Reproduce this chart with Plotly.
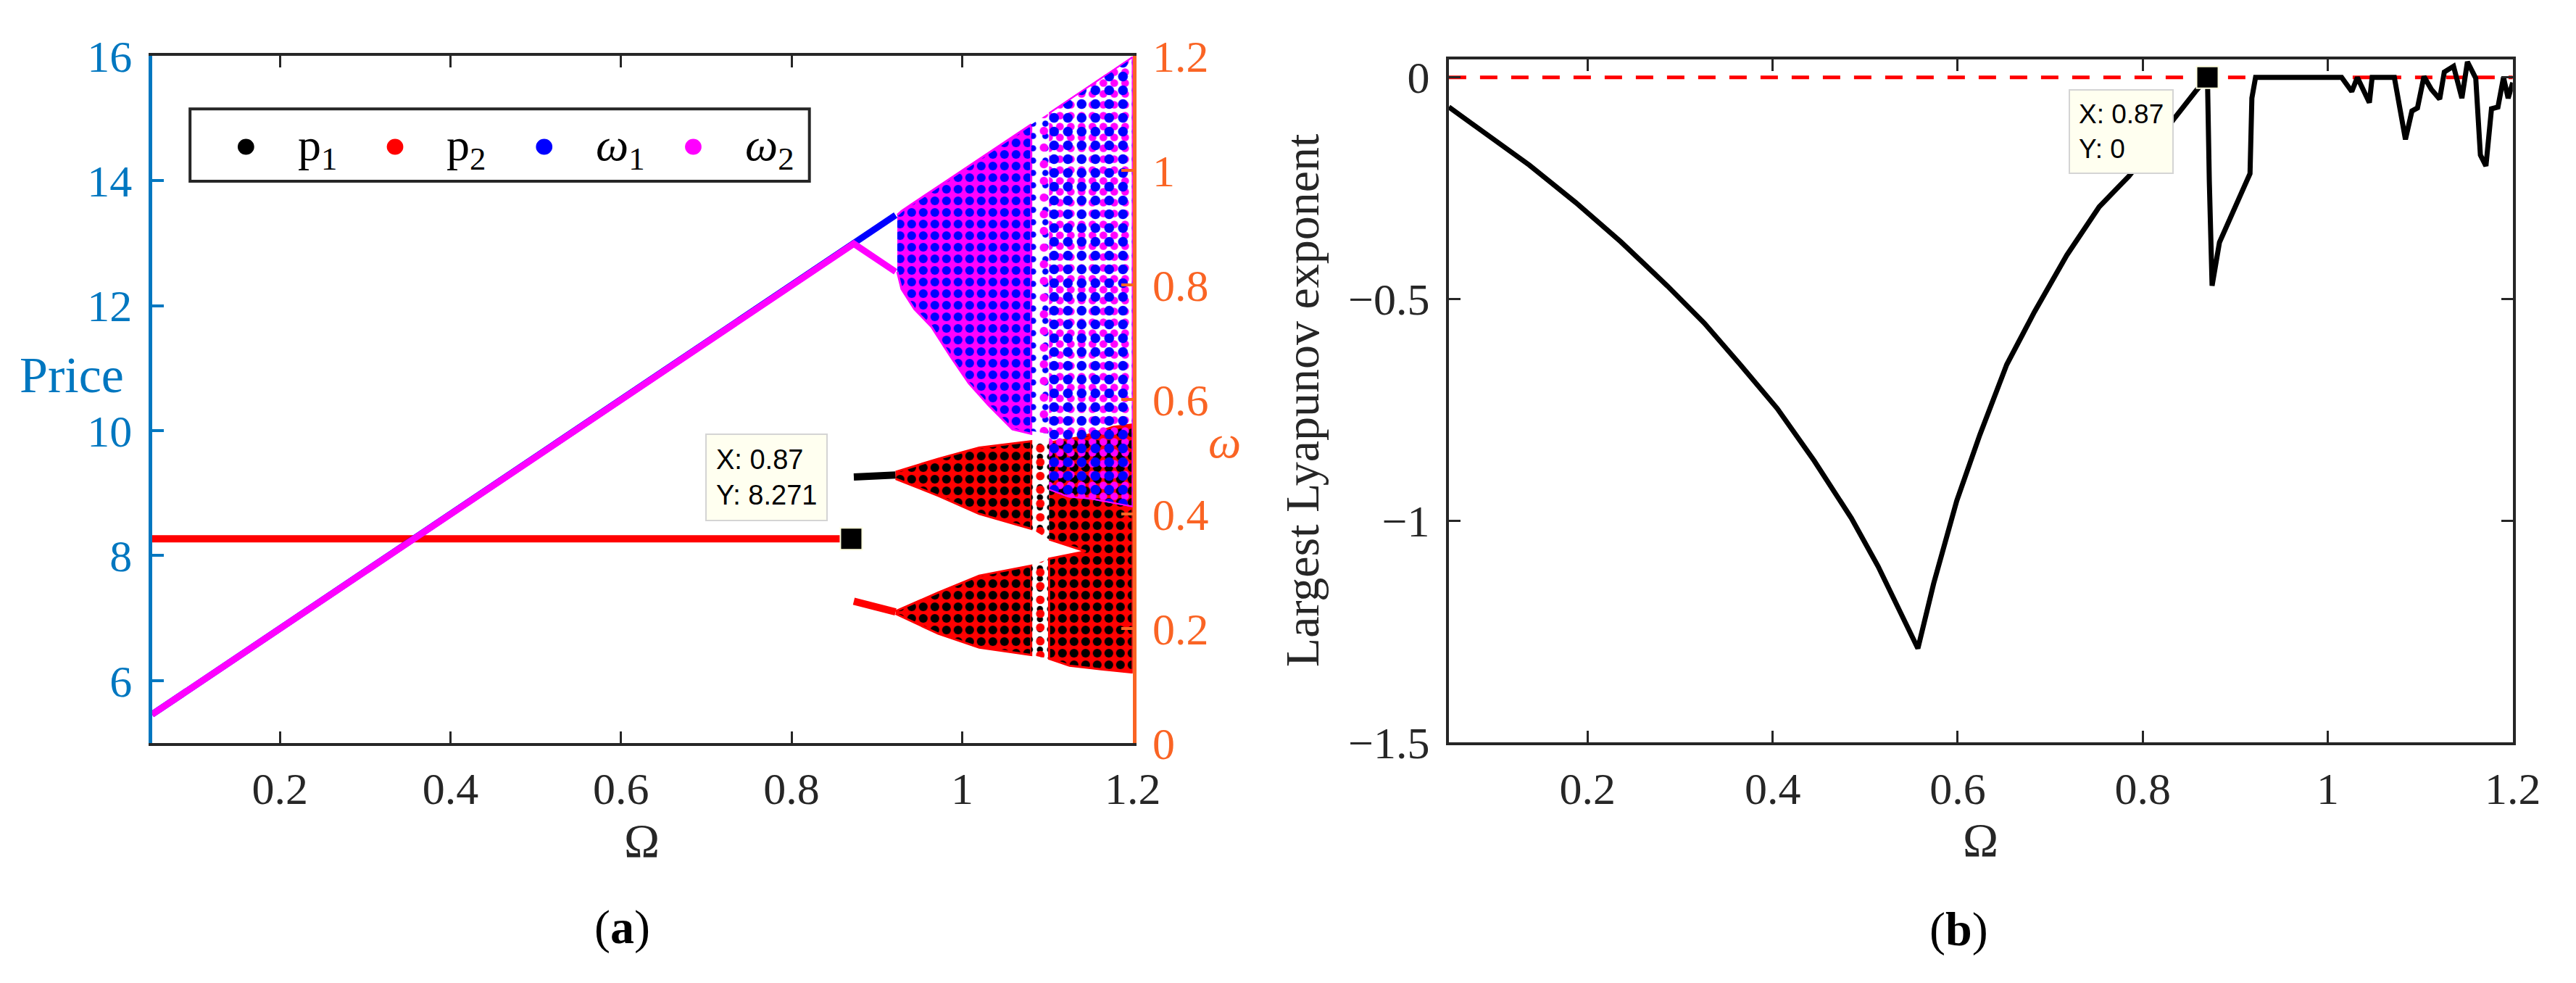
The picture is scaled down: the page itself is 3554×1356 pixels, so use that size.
import plotly.graph_objects as go

# ---------------- panel (a): bifurcation diagram ----------------
# stable state (before the flip at Omega = 0.87)
stable_omega = [0.05, 0.87]
stable_price = [8.271, 8.271]
stable_w_omega = [0.05, 0.873]
stable_w = [0.05, 0.872]

# period-2 branches
branch_omega = [0.873, 0.922]
p1_branch = [9.26, 9.29]
p2_branch = [7.27, 7.10]
w1_branch = [0.872, 0.922]
w2_branch = [0.872, 0.823]

# chaotic price bands (envelopes)
band_omega = [0.922, 0.972, 1.02, 1.081]
upper_band_top = [9.34, 9.55, 9.73, 9.83]
upper_band_bot = [9.23, 8.96, 8.67, 8.43]
lower_band_top = [7.11, 7.41, 7.68, 7.84]
lower_band_bot = [7.07, 6.75, 6.53, 6.41]

# periodic window 1.081 - 1.102 (sparse points)
window_omega = [1.081, 1.102]
window_up_top = [9.83, 9.81]
window_up_bot = [8.43, 8.26]
window_low_top = [7.84, 7.95]
window_low_bot = [6.41, 6.35]

# merged price band after the window (outline incl. the notch where bands meet)
merged_omega = [1.102, 1.14, 1.177, 1.2, 1.2, 1.163, 1.126, 1.102, 1.102, 1.145, 1.102]
merged_price = [9.81, 9.90, 10.06, 10.10, 6.13, 6.18, 6.24, 6.35, 7.95, 8.07, 8.26]

# chaotic omega region
w_chaos_omega = [0.924, 0.929, 0.944, 0.964, 0.986, 1.008, 1.031, 1.059, 1.081]
w_chaos_top = [0.922, 0.929, 0.944, 0.964, 0.986, 1.008, 1.031, 1.059, 1.080]
w_chaos_bot = [0.823, 0.793, 0.758, 0.727, 0.676, 0.628, 0.590, 0.548, 0.540]
w_window_omega = [1.081, 1.102]
w_window_top = [1.080, 1.100]
w_window_bot = [0.545, 0.540]
w_late_omega = [1.102, 1.125, 1.15, 1.175, 1.2]
w_late_top = [1.100, 1.123, 1.148, 1.173, 1.198]
w_late_bot = [0.443, 0.430, 0.427, 0.420, 0.413]

# legend of panel (a)
legend_labels = ['p<sub>1</sub>', 'p<sub>2</sub>', '<i>ω</i><sub>1</sub>', '<i>ω</i><sub>2</sub>']
legend_colors = ['black', 'red', 'blue', 'magenta']

# ---------------- panel (b): largest Lyapunov exponent ----------------
lyap_omega = [0.05, 0.087, 0.137, 0.187, 0.236, 0.286, 0.326, 0.365, 0.405, 0.445,
              0.485, 0.514, 0.534, 0.557, 0.574, 0.599, 0.624, 0.653, 0.683, 0.718,
              0.753, 0.785, 0.857, 0.87,
              0.872, 0.875, 0.883, 0.902, 0.916, 0.918, 0.922, 0.95, 0.98, 1.0, 1.015,
              1.026, 1.032, 1.045, 1.048, 1.072, 1.084, 1.091, 1.097, 1.104, 1.112,
              1.121, 1.126, 1.136, 1.145, 1.151, 1.16, 1.165, 1.171, 1.177, 1.184,
              1.19, 1.195, 1.2]
lyap = [-0.067, -0.124, -0.198, -0.282, -0.371, -0.470, -0.554, -0.648, -0.747, -0.865,
        -0.994, -1.103, -1.192, -1.288, -1.142, -0.955, -0.806, -0.648, -0.529, -0.401,
        -0.292, -0.223, -0.032, 0.0,
        -0.234, -0.47, -0.372, -0.284, -0.217, -0.047, 0.0, 0.0, 0.0, 0.0, 0.0,
        -0.032, 0.0, -0.057, 0.0, 0.0, -0.14, -0.076, -0.069, 0.002, -0.027,
        -0.049, 0.012, 0.025, -0.047, 0.035, -0.002, -0.175, -0.2, -0.071, -0.067,
        0.0, -0.047, -0.012]

x_ticks = [0.2, 0.4, 0.6, 0.8, 1, 1.2]
price_ticks = [6, 8, 10, 12, 14, 16]
w_ticks = [0, 0.2, 0.4, 0.6, 0.8, 1, 1.2]
lyap_ticks = [-1.5, -1, -0.5, 0]

W, H = 3554, 1356
BLUE_AX = '#0077C0'
ORANGE_AX = '#FA6424'
DARK = '#262626'
SERIF = 'Liberation Serif'
CLEAR = 'rgba(0,0,0,0)'

fig = go.Figure()


def band(xs, top, bot):
    # closed outline: along the top, back along the bottom
    return list(xs) + list(xs)[::-1], list(top) + list(bot)[::-1]


def dense(fg, bg):
    return dict(shape='.', fgcolor=fg, bgcolor=bg, size=16, solidity=0.45, fillmode='replace')


def sparse(fg, size=20, solidity=0.15):
    return dict(shape='.', fgcolor=fg, bgcolor=CLEAR, size=size, solidity=solidity, fillmode='replace')


# price traces (left axis)
fig.add_trace(go.Scatter(x=stable_omega, y=stable_price, mode='lines',
                         line=dict(color='red', width=10), showlegend=False))
fig.add_trace(go.Scatter(x=branch_omega, y=p1_branch, mode='lines',
                         line=dict(color='black', width=10), showlegend=False))
fig.add_trace(go.Scatter(x=branch_omega, y=p2_branch, mode='lines',
                         line=dict(color='red', width=10), showlegend=False))
for top, bot in [(upper_band_top, upper_band_bot), (lower_band_top, lower_band_bot)]:
    bx, by = band(band_omega, top, bot)
    fig.add_trace(go.Scatter(x=bx, y=by, mode='lines', fill='toself', line=dict(color='red', width=3),
                             fillcolor=CLEAR, fillpattern=dense('black', 'red'), showlegend=False))
for top, bot in [(window_up_top, window_up_bot), (window_low_top, window_low_bot)]:
    bx, by = band(window_omega, top, bot)
    for col, sz in [('black', 14), ('red', 19)]:
        fig.add_trace(go.Scatter(x=bx, y=by, mode='lines', fill='toself', line=dict(width=0),
                                 fillcolor=CLEAR, fillpattern=sparse(col, sz, 0.3), showlegend=False))
fig.add_trace(go.Scatter(x=merged_omega, y=merged_price, mode='lines', fill='toself',
                         line=dict(color='red', width=3), fillcolor=CLEAR,
                         fillpattern=dense('black', 'red'), showlegend=False))

# omega traces (right axis)
fig.add_trace(go.Scatter(x=stable_w_omega + branch_omega[1:], y=stable_w + w1_branch[1:], yaxis='y2',
                         mode='lines', line=dict(color='blue', width=9), showlegend=False))
fig.add_trace(go.Scatter(x=stable_w_omega + branch_omega[1:], y=stable_w + w2_branch[1:], yaxis='y2',
                         mode='lines', line=dict(color='magenta', width=9), showlegend=False))
bx, by = band(w_chaos_omega, w_chaos_top, w_chaos_bot)
fig.add_trace(go.Scatter(x=bx, y=by, yaxis='y2', mode='lines', fill='toself',
                         line=dict(color='magenta', width=3), fillcolor=CLEAR,
                         fillpattern=dense('blue', 'magenta'), showlegend=False))
bx, by = band(w_window_omega, w_window_top, w_window_bot)
for col, sz in [('blue', 17), ('magenta', 23)]:
    fig.add_trace(go.Scatter(x=bx, y=by, yaxis='y2', mode='lines', fill='toself', line=dict(width=0),
                             fillcolor=CLEAR, fillpattern=sparse(col, sz, 0.2), showlegend=False))
bx, by = band(w_late_omega, w_late_top, w_late_bot)
for col, sz in [('magenta', 15), ('blue', 19)]:
    fig.add_trace(go.Scatter(x=bx, y=by, yaxis='y2', mode='lines', fill='toself',
                             line=dict(color='magenta', width=2), fillcolor=CLEAR,
                             fillpattern=sparse(col, sz, 0.4), showlegend=False))

# data tip marker (a)
fig.add_trace(go.Scatter(x=[0.87], y=[8.271], mode='markers', showlegend=False,
                         marker=dict(symbol='square', size=30, color='black',
                                     line=dict(color='#FFFFE0', width=2))))

# panel (b)
fig.add_trace(go.Scatter(x=[0.05, 1.2], y=[0, 0], xaxis='x2', yaxis='y3', mode='lines',
                         line=dict(color='red', width=5, dash='24px,19px'), showlegend=False))
fig.add_trace(go.Scatter(x=lyap_omega, y=lyap, xaxis='x2', yaxis='y3', mode='lines',
                         line=dict(color='black', width=7), showlegend=False))
fig.add_trace(go.Scatter(x=[0.87], y=[0], xaxis='x2', yaxis='y3', mode='markers', showlegend=False,
                         marker=dict(symbol='square', size=30, color='black',
                                     line=dict(color='#FFFFE0', width=2))))

# hand-made legend box (pixel layout -> paper coords)
shapes = [dict(type='rect', xref='paper', yref='paper', x0=257 / W, x1=1121 / W,
               y0=1 - 220 / H, y1=1 - 115 / H, line=dict(color=DARK, width=4),
               fillcolor='white', layer='below')]
annotations = []
for i, (lab, col) in enumerate(zip(legend_labels, legend_colors)):
    cx, cy, r = 335 + 208 * i, 170, 11.5
    shapes.append(dict(type='circle', xref='paper', yref='paper', x0=(cx - r) / W, x1=(cx + r) / W,
                       y0=1 - (cy + r) / H, y1=1 - (cy - r) / H, fillcolor=col, line=dict(width=0)))
    annotations.append(dict(text=lab, x=(cx + 70) / W, y=1 - 172 / H, xref='paper', yref='paper',
                            xanchor='left', yanchor='middle', showarrow=False,
                            font=dict(family=SERIF, size=64, color='black')))


def label(text, x, y, size=66, color=DARK, angle=0):
    return dict(text=text, x=x, y=y, xref='paper', yref='paper', xanchor='center', yanchor='middle',
                textangle=angle, showarrow=False, font=dict(family=SERIF, size=size, color=color))


annotations += [
    label('Price', 92 / W, 1 - 502 / H, 70, BLUE_AX),
    label('<i>ω</i>', 1700 / W, 1 - 598 / H, 64, ORANGE_AX),
    label('Ω', 887 / W, 1 - 1178 / H),
    label('Ω', 2755 / W, 1 - 1176 / H),
    label('Largest Lyapunov exponent', 1808 / W, 1 - 538 / H, angle=-90),
    label('(<b>a</b>)', 860 / W, 1 - 1303 / H, color='black'),
    label('(<b>b</b>)', 2724 / W, 1 - 1306 / H, color='black'),
    dict(text='X: 0.87<br>Y: 8.271', x=0.699, y=9.95, xref='x', yref='y', xanchor='left',
         yanchor='top', align='left', showarrow=False, bgcolor='#FFFFF0',
         bordercolor='#D4D4D4', borderwidth=2, borderpad=13,
         font=dict(family='Liberation Sans', size=38, color='black')),
    dict(text='X: 0.87<br>Y: 0', x=0.72, y=-0.026, xref='x2', yref='y3', xanchor='left',
         yanchor='top', align='left', showarrow=False, bgcolor='#FFFFF0',
         bordercolor='#D4D4D4', borderwidth=2, borderpad=12,
         font=dict(family='Liberation Sans', size=37, color='black')),
]

tickfont = dict(family=SERIF, size=62, color=DARK)
common_x = dict(range=[0.05, 1.2], tickvals=x_ticks, ticks='inside', ticklen=16, tickwidth=3,
                tickcolor=DARK, showline=True, linecolor=DARK, linewidth=4, mirror='ticks',
                showgrid=False, zeroline=False, tickfont=tickfont, ticklabelstandoff=6)

fig.update_layout(
    width=W, height=H,
    margin=dict(l=0, r=0, t=0, b=0),
    paper_bgcolor='white', plot_bgcolor='white',
    showlegend=False,
    xaxis=dict(domain=[0.0574, 0.4423], anchor='y', **common_x),
    yaxis=dict(domain=[0.236, 0.972], range=[5, 16], tickvals=price_ticks, ticks='inside',
               ticklen=16, tickwidth=4, tickcolor=BLUE_AX, showline=True, linecolor=BLUE_AX,
               linewidth=5, showgrid=False, zeroline=False, ticklabelstandoff=10,
               tickfont=dict(family=SERIF, size=62, color=BLUE_AX)),
    yaxis2=dict(overlaying='y', side='right', anchor='x', range=[0, 1.2], tickvals=w_ticks,
                ticks='inside', ticklen=16, tickwidth=4, tickcolor=ORANGE_AX, showline=True,
                linecolor=ORANGE_AX, linewidth=5, showgrid=False, zeroline=False,
                ticklabelstandoff=10, tickfont=dict(family=SERIF, size=62, color=ORANGE_AX)),
    xaxis2=dict(domain=[0.5664, 0.984], anchor='y3', **common_x),
    yaxis3=dict(domain=[0.2367, 0.968], anchor='x2', range=[-1.5, 0.04], tickvals=lyap_ticks,
                ticks='inside', ticklen=16, tickwidth=3, tickcolor=DARK, showline=True,
                linecolor=DARK, linewidth=4, mirror='ticks', showgrid=False, zeroline=False,
                ticklabelstandoff=10, tickfont=tickfont),
    shapes=shapes,
    annotations=annotations,
)

fig.write_html("out.html")
